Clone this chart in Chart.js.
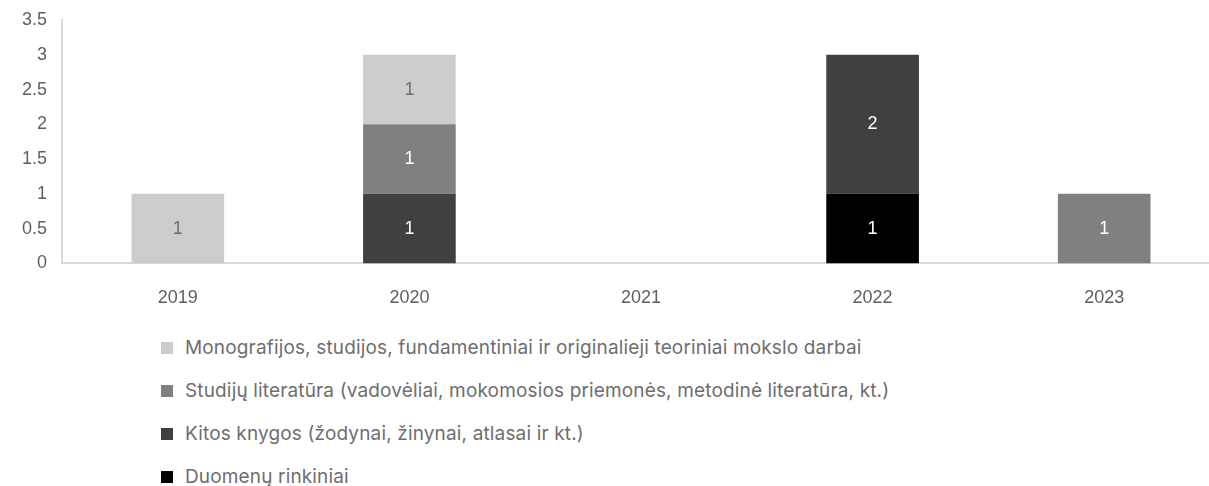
<!DOCTYPE html>
<html>
<head>
<meta charset="utf-8">
<script src="https://cdn.jsdelivr.net/npm/chart.js@4"></script>
<style>
  html, body { margin: 0; background: #fff; overflow: hidden; }
  #wrap { width: 1220px; height: 329px; position: relative; }
  #legend { list-style: none; margin: -3px 0 0 0; padding: 0 0 0 161px; font-family: Inter, "Noto Sans", sans-serif; font-size: 19px; letter-spacing: 0.15px; color: #6e6e6e; }
  #legend li { height: 43px; line-height: 43px; display: flex; align-items: center; }
  #legend span.box { display: inline-block; width: 12px; height: 12px; margin-right: 12px; }
</style>
</head>
<body>
<div id="wrap"><canvas id="barChart"></canvas></div>
<ul id="legend"></ul>
<script>
const years = ['2019', '2020', '2021', '2022', '2023'];

// listed bottom of stack first
const duomenuRinkiniai = [0, 0, 0, 1, 0];
const kitosKnygos = [0, 1, 0, 2, 0];
const studijuLiteratura = [0, 1, 0, 0, 1];
const monografijos = [1, 1, 0, 0, 0];

const seriesNames = [
    'Duomenų rinkiniai',
    'Kitos knygos (žodynai, žinynai, atlasai ir kt.)',
    'Studijų literatūra (vadovėliai, mokomosios priemonės, metodinė literatūra, kt.)',
    'Monografijos, studijos, fundamentiniai ir originalieji teoriniai mokslo darbai'
];
const seriesColors = ['#000000', '#404042', '#808083', '#cbcdcd'];
const labelColors = ['#ffffff', '#ffffff', '#ffffff', '#6d6d6d'];
const seriesValues = [duomenuRinkiniai, kitosKnygos, studijuLiteratura, monografijos];

const tickFont = { family: '"Liberation Sans", Arial, sans-serif', size: 18 };

// draws the value in the middle of each segment
const barLabels = {
    id: 'barLabels',
    afterDatasetsDraw(chart) {
        const ctx = chart.ctx;
        ctx.save();
        ctx.font = '18px "Liberation Sans", Arial, sans-serif';
        ctx.textAlign = 'center';
        ctx.textBaseline = 'middle';
        chart.data.datasets.forEach((ds, i) => {
            const meta = chart.getDatasetMeta(i);
            meta.data.forEach((bar, j) => {
                const v = ds.data[j];
                if (!v) return;
                ctx.fillStyle = labelColors[i];
                ctx.fillText(String(v), bar.x, (bar.y + bar.base) / 2);
            });
        });
        ctx.restore();
    }
};

const barChartContext = document.getElementById('barChart').getContext('2d');

const barChart = new Chart(barChartContext, {
    type: 'bar',
    data: {
        labels: years,
        datasets: seriesValues.map((vals, i) => ({
            label: seriesNames[i],
            data: vals,
            backgroundColor: seriesColors[i],
            borderWidth: 0,
            categoryPercentage: 0.8,
            barPercentage: 0.5
        }))
    },
    options: {
        responsive: true,
        maintainAspectRatio: false,
        animation: false,
        layout: { padding: { top: 20, right: 0, left: 15, bottom: 4 } },
        plugins: {
            legend: { display: false },
            tooltip: { enabled: false }
        },
        scales: {
            x: {
                stacked: true,
                grid: { display: false },
                border: { display: true, color: '#d9d9d9', width: 2 },
                ticks: {
                    padding: 16,
                    color: '#5f5f5f',
                    font: tickFont
                }
            },
            y: {
                stacked: true,
                min: 0,
                max: 3.5,
                grid: { display: false },
                border: { display: true, color: '#d9d9d9', width: 2 },
                ticks: {
                    stepSize: 0.5,
                    padding: 7,
                    color: '#5f5f5f',
                    font: tickFont,
                    callback: (value) => String(+value)
                }
            }
        }
    },
    plugins: [barLabels]
});

// legend in the original order (top of stack first)
const legendList = document.getElementById('legend');
for (let i = seriesNames.length - 1; i >= 0; i--) {
    const li = document.createElement('li');
    const box = document.createElement('span');
    box.className = 'box';
    box.style.background = seriesColors[i];
    li.appendChild(box);
    li.appendChild(document.createTextNode(seriesNames[i]));
    legendList.appendChild(li);
}
</script>
</body>
</html>
